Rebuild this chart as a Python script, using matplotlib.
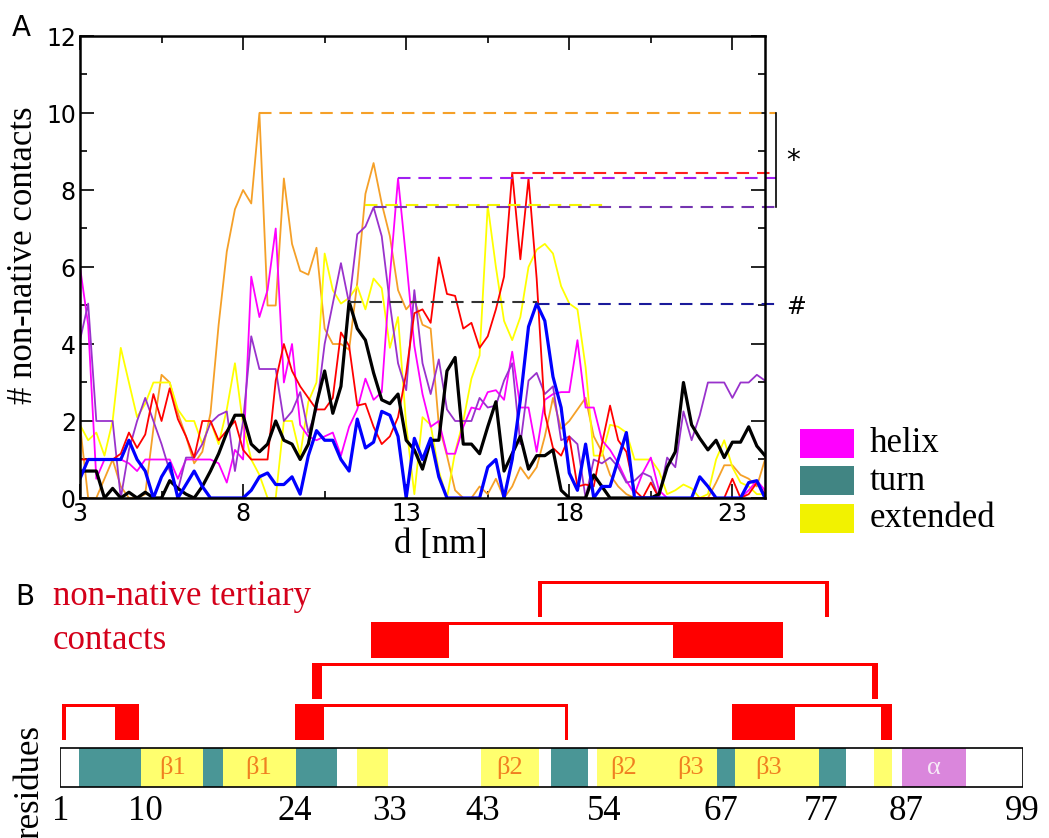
import numpy as np
import matplotlib
matplotlib.use('Agg')
import matplotlib.pyplot as plt
from matplotlib.patches import Rectangle
from matplotlib.ticker import FixedLocator

plt.rcParams['font.family'] = 'DejaVu Sans'
SERIF = 'Liberation Serif'

W, H = 1049, 838  # figure size in pixels (dpi 100)

# --- Panel A: number of non-native contacts vs. end-to-end distance d ---
d_nm = np.linspace(3, 24, 85)  # 0.25 nm sampling

orange = [1.9, 0, 0, 0.5, 1.0, 0.3, 0, 0,
          0.1, 1.8, 3.2, 3.0, 2.2, 1.6, 0.9, 1.2,
          2.2, 4.5, 6.4, 7.5, 8.0, 7.65, 10.0, 5.0,
          5.0, 8.3, 6.6, 5.9, 5.8, 6.5, 4.4, 4.0,
          4.0, 3.85, 5.6, 7.9, 8.7, 7.65, 6.8, 5.4,
          4.9, 5.15, 4.5, 4.4, 1.9, 1.1, 0.2, 0,
          0, 0.3, 0.1, 0.5, 0, 0.3, 0.8, 0.5,
          0.8, 1.6, 2.6, 1.8, 2.0, 2.3, 2.6, 1.6,
          1.2, 0.6, 0.3, 0.1, 0, 0, 0, 0,
          0, 0, 0, 0, 0, 0, 0.4, 0.85,
          0.85, 0.6, 0.5, 0.3, 1.0]

yellow = [1.9, 1.5, 1.7, 1.1, 2.0, 3.9, 3.0, 2.1,
          2.45, 3.0, 3.0, 3.0, 2.3, 2.0, 2.0, 1.4,
          2.0, 1.4, 2.3, 3.5, 1.9, 1.0, 0.6, 0,
          0, 2.0, 2.0, 1.1, 2.5, 3.0, 6.35, 5.4,
          5.05, 5.2, 5.5, 4.9, 5.7, 5.45, 3.9, 4.7,
          1.9, 0.1, 2.1, 1.9, 0.7, 0, 1.2, 2.0,
          3.1, 3.7, 7.6, 6.0, 4.6, 4.1, 4.7, 6.0,
          6.45, 6.6, 6.35, 5.5, 5.05, 4.9, 3.4, 1.1,
          1.1, 1.9, 1.85, 1.7, 1.0, 1.0, 1.0, 0.7,
          0.1, 0.2, 0.35, 0.25, 0, 0.1, 1.0, 1.5,
          0.8, 0.4, 0.3, 0.1, 0.1]

magenta = [6.0, 4.5, 0.5, 1.0, 1.0, 1.0, 0.9, 0.7,
           1.0, 1.0, 1.0, 1.0, 0.5, 1.0, 1.0, 1.0,
           1.0, 0.9, 0.4, 1.25, 1.0, 5.75, 4.7, 5.4,
           7.0, 3.0, 4.0, 1.9, 1.6, 1.5, 1.6, 1.7,
           1.1, 1.85, 2.3, 3.1, 2.55, 2.75, 5.75, 8.3,
           6.2, 3.95, 2.7, 1.85, 2.0, 1.15, 1.15, 1.85,
           2.35, 2.3, 2.75, 2.8, 2.55, 3.8, 2.35, 2.35,
           1.2, 2.55, 2.7, 2.75, 2.75, 4.1, 2.35, 2.35,
           1.5, 1.25, 0.9, 0.45, 0.1, 0.65, 1.05, 0.2,
           0, 0, 0, 0, 0, 0, 0, 0,
           0, 0, 0.2, 0.45, 0.2]

purple = [4.1, 5.05, 2.0, 2.0, 2.0, 0, 1.25, 2.0,
          2.6, 2.0, 1.4, 0.7, 0.2, 1.05, 1.05, 1.4,
          1.95, 2.15, 2.25, 0.7, 2.0, 4.2, 3.35, 3.35,
          3.35, 2.0, 2.25, 2.75, 1.7, 2.3, 4.0, 5.05,
          6.1, 5.05, 6.85, 7.05, 7.55, 6.8, 5.05, 3.5,
          2.8, 5.4, 3.5, 2.7, 3.6, 2.3, 2.0, 2.0,
          2.0, 2.6, 2.35, 2.4, 3.05, 3.5, 1.4, 3.05,
          3.25, 2.7, 2.9, 1.5, 1.6, 1.4, 0, 1.0,
          0.9, 1.05, 0.8, 0.4, 0.45, 0.65, 0.55, 0,
          1.05, 0.8, 2.25, 1.5, 2.15, 3.0, 3.0, 3.0,
          2.6, 3.0, 3.0, 3.2, 3.05]

red = [1.0, 1.0, 1.0, 1.0, 1.0, 1.15, 1.7, 1.3,
       1.65, 2.7, 2.0, 2.85, 2.05, 1.6, 1.05, 2.0,
       2.0, 1.5, 1.75, 2.0, 1.25, 1.0, 1.0, 1.0,
       3.05, 4.0, 3.3, 2.9, 2.6, 2.3, 2.3, 2.6,
       4.3, 3.95, 2.4, 2.45, 1.85, 1.4, 1.6, 2.1,
       3.25, 4.8, 4.9, 4.55, 6.25, 5.3, 5.25, 4.4,
       4.55, 3.9, 4.2, 4.9, 5.75, 8.45, 6.2, 8.3,
       5.7, 2.2, 1.3, 1.1, 1.6, 0.3, 0.35, 0.3,
       1.4, 2.4, 1.5, 1.2, 0.2, 0, 0.4, 0,
       0, 0, 0, 0, 0, 0, 0, 0,
       0.5, 0, 0.1, 0.4, 0.1]

black = [0.7, 0.7, 0.7, 0, 0.25, 0, 0.15, 0,
         0.15, 0, 0, 0.45, 0.25, 0.1, 0, 0.3,
         0.7, 1.15, 1.7, 2.15, 2.15, 1.4, 1.2, 1.4,
         2.0, 1.5, 1.4, 1.0, 1.4, 2.45, 3.3, 2.2,
         2.9, 5.1, 4.4, 4.1, 3.25, 2.55, 2.45, 2.7,
         1.5, 1.25, 0.75, 1.5, 1.5, 3.3, 3.65, 1.4,
         1.4, 1.15, 1.85, 2.5, 0.7, 1.15, 1.6, 0.75,
         1.1, 1.1, 1.25, 0.2, 0, 0, 0, 0.6,
         0.3, 0, 0, 0, 0, 0, 0, 0.1,
         0.8, 1.2, 3.0, 1.9, 1.55, 1.25, 1.5, 1.05,
         1.45, 1.45, 1.85, 1.35, 1.1]

blue = [0.5, 1.0, 1.0, 1.0, 1.0, 1.0, 1.5, 1.0,
        0.7, 0, 0.55, 0.9, 0, 0.35, 0.7, 0.3,
        0, 0, 0, 0, 0, 0.2, 0.55, 0.65,
        0.35, 0.35, 0.55, 0.1, 1.1, 1.75, 1.5, 1.5,
        1.0, 0.7, 2.05, 1.3, 1.45, 2.25, 2.15, 1.6,
        0, 1.55, 1.0, 1.55, 0.55, 0, 0, 0,
        0, 0, 0.8, 1.0, 0, 1.0, 2.55, 4.45,
        5.05, 4.6, 3.15, 2.35, 0.65, 0.2, 1.4, 0,
        0.3, 0.3, 1.0, 1.7, 0, 0, 0, 0,
        0, 0, 0, 0, 0.55, 0.3, 0, 0,
        0, 0, 0.4, 0.45, 0]

series = [(orange, '#F5A028', 1.3), (yellow, '#FFFF00', 1.3),
          (magenta, '#FF00FF', 1.3), (purple, '#9932CC', 1.3),
          (red, '#FF0000', 1.3), (black, 'black', 2.3), (blue, '#0000FF', 2.3)]

# dashed lines marking each trajectory's maximum
max_level = [10.0, 8.3, 8.45, 7.6, 7.55, 5.1, 5.05]
max_from = [8.5, 12.75, 16.25, 11.75, 12.0, 11.25, 17.0]
max_to = [24.35, 24.35, 24.35, 19.2, 24.35, 17.0, 24.45]
max_color = ['#F5A028', '#A020F0', '#FF2020', '#F5F500', '#7434B0', '#333333', '#1A1A9A']

legend_labels = ['helix', 'turn', 'extended']
legend_colors = ['#FF00FF', '#418583', '#F2F200']

# --- Panel B: secondary structure and non-native tertiary contacts ---
seg_start = [2.93, 9.21, 15.52, 17.59, 24.98, 31.22, 43.81, 50.93, 55.61, 67.86, 69.69, 78.21, 83.80, 86.68]
seg_end = [9.21, 15.52, 17.59, 24.98, 29.16, 34.35, 49.74, 54.70, 67.86, 69.69, 78.21, 80.99, 85.63, 93.19]
seg_type = ['turn', 'extended', 'turn', 'extended', 'turn', 'extended', 'extended',
            'turn', 'extended', 'turn', 'extended', 'turn', 'extended', 'helix']
sse_color = {'turn': '#4A9696', 'extended': '#FFFF6E', 'helix': '#DA86DC'}

sse_labels = ['β1', 'β1', 'β2', 'β2', 'β3', 'β3', 'α']
sse_label_pos = [12.5, 21.2, 46.8, 58.4, 65.2, 73.1, 89.9]

residue_labels = ['1', '10', '24', '33', '43', '54', '67', '77', '87', '99']
residue_label_pos = [1.1, 9.65, 24.9, 34.5, 44.0, 56.4, 68.3, 78.5, 87.1, 98.9]

contact_a_start = [1.2, 24.9, 69.4, 26.6, 32.6, 49.6]
contact_a_end = [1.6, 27.9, 75.8, 27.7, 40.6, 50.1]
contact_b_start = [6.6, 52.4, 84.6, 83.6, 63.4, 78.8]
contact_b_end = [9.04, 52.7, 85.7, 84.2, 74.6, 79.3]
contact_level = [1, 1, 1, 2, 3, 4]

fig = plt.figure(figsize=(W / 100, H / 100), dpi=100)

# ---------------- Panel A ----------------
ax = fig.add_axes([80 / W, 1 - 498 / H, 685 / W, 462 / H])
for vals, col, lw in series:
    ax.plot(d_nm, vals, color=col, lw=lw)

for lev, x0, x1, col in zip(max_level, max_from, max_to, max_color):
    ax.plot([x0, x1], [lev, lev], color=col, lw=1.5, dashes=(6, 3.8), clip_on=False)

# bracket and markers right of the frame
ax.plot([24.33, 24.33], [7.55, 10.0], color='black', lw=1.2, clip_on=False)
ax.text(24.85, 8.75, '*', fontsize=20, ha='center', va='center', clip_on=False)
ax.text(24.95, 4.96, '#', fontsize=17, ha='center', va='center', clip_on=False)

ax.set_xlim(3, 24)
ax.set_ylim(0, 12)
ax.xaxis.set_major_locator(FixedLocator([3, 8, 13, 18, 23]))
ax.xaxis.set_minor_locator(FixedLocator([5.5, 10.5, 15.5, 20.5]))
ax.yaxis.set_major_locator(FixedLocator([0, 2, 4, 6, 8, 10, 12]))
ax.yaxis.set_minor_locator(FixedLocator([1, 3, 5, 7, 9, 11]))
ax.tick_params(which='both', direction='in', top=True, right=True, width=1.2, labelsize=17)
ax.tick_params(which='major', length=10)
ax.tick_params(which='minor', length=5)
ax.tick_params(axis='x', pad=3)
ax.tick_params(axis='y', pad=3)
for sp in ax.spines.values():
    sp.set_linewidth(1.8)

ax.set_xlabel('d [nm]', family=SERIF, fontsize=25)
ax.xaxis.set_label_coords(0.527, -0.065)
ax.set_ylabel('# non-native contacts', family=SERIF, fontsize=25)
ax.yaxis.set_label_coords(-0.058, 0.526)

fig.text(12 / W, 1 - 36 / H, 'A', fontsize=20, va='baseline')

# legend for secondary structure colours
for k, (lab, col) in enumerate(zip(legend_labels, legend_colors)):
    yc = 443.5 + 37.5 * k
    fig.add_artist(Rectangle((800 / W, 1 - (yc + 14.5) / H), 54 / W, 29 / H,
                             transform=fig.transFigure, facecolor=col, edgecolor='none'))
    fig.text(870 / W, 1 - yc / H, lab, family=SERIF, fontsize=25, va='center')

# ---------------- Panel B ----------------
ax2 = fig.add_axes([60 / W, 0, 963 / W, 278 / H])
ax2.set_xlim(1, 99)
ax2.set_ylim(838, 560)
ax2.axis('off')

bar_top, bar_h = 748, 39
for s, e, t in zip(seg_start, seg_end, seg_type):
    ax2.add_patch(Rectangle((s, bar_top), e - s, bar_h, facecolor=sse_color[t], edgecolor='none'))
ax2.add_patch(Rectangle((1, bar_top), 98, bar_h, fill=False, edgecolor='black', lw=1.2))

for lab, pos in zip(sse_labels, sse_label_pos):
    col = '#F7EAF7' if lab == 'α' else '#F08020'
    ax2.text(pos, bar_top + bar_h / 2, lab, family=SERIF, fontsize=19, color=col,
             ha='center', va='center')

for lab, pos in zip(residue_labels, residue_label_pos):
    ax2.text(pos, 820, lab, family=SERIF, fontsize=25, ha='center', va='baseline', clip_on=False)

for a0, a1, b0, b1, lev in zip(contact_a_start, contact_a_end, contact_b_start, contact_b_end, contact_level):
    top = 704 - 41 * (lev - 1)
    ax2.add_patch(Rectangle((a0, top), a1 - a0, 36, facecolor='#FF0000', edgecolor='none'))
    ax2.add_patch(Rectangle((b0, top), b1 - b0, 36, facecolor='#FF0000', edgecolor='none'))
    ax2.add_patch(Rectangle((a0, top), b1 - a0, 3, facecolor='#FF0000', edgecolor='none'))

fig.text(15 / W, 1 - 605 / H, 'B', fontsize=20, va='baseline')
fig.text(53 / W, 1 - 605 / H, 'non-native tertiary', family=SERIF, fontsize=25,
         color='#D4001A', va='baseline')
fig.text(53 / W, 1 - 649 / H, 'contacts', family=SERIF, fontsize=25,
         color='#D4001A', va='baseline')
fig.text(30 / W, 1 - 725 / H, 'residues', family=SERIF, fontsize=25, rotation=90,
         ha='center', va='top')

fig.savefig('out.png', dpi=100)
